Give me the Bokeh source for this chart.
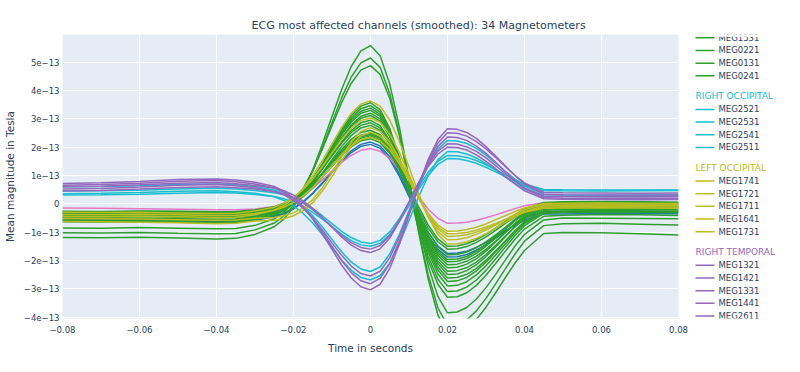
from bokeh.plotting import figure
from bokeh.models import Range1d, FixedTicker, ColumnDataSource
from bokeh.layouts import row
from bokeh.embed import file_html
from bokeh.resources import INLINE
from bokeh.core.properties import value

# ---------------- data (values in units of 1e-13 Tesla) ----------------
UNIT = 1e-13
T = [-0.08, -0.07, -0.06, -0.05, -0.04, -0.035, -0.03, -0.025, -0.0225, -0.02, -0.0175, -0.015,
     -0.0125, -0.01, -0.0075, -0.005, -0.0025, 0.0, 0.0025, 0.005, 0.0075, 0.01, 0.0125, 0.015,
     0.0175, 0.02, 0.0225, 0.025, 0.0275, 0.03, 0.0325, 0.035, 0.0375, 0.04, 0.045, 0.05, 0.06,
     0.07, 0.08]

LEFT_FRONTAL_NAMES = ["MEG0511", "MEG0521"]
LEFT_FRONTAL_VALUES = [
    [-0.57,-0.58,-0.60,-0.63,-0.68,-0.66,-0.58,-0.46,-0.35,-0.18,0.06,0.37,0.74,1.14,1.54,1.87,2.10,2.18,2.04,1.66,1.07,0.36,-0.36,-1.01,-1.49,-1.75,-1.74,-1.67,-1.54,-1.37,-1.17,-0.96,-0.76,-0.58,-0.36,-0.36,-0.33,-0.34,-0.35],
    [-0.55,-0.56,-0.58,-0.60,-0.62,-0.61,-0.54,-0.43,-0.32,-0.16,0.07,0.37,0.72,1.11,1.49,1.81,2.03,2.10,1.96,1.57,0.97,0.26,-0.48,-1.13,-1.61,-1.88,-1.87,-1.79,-1.64,-1.44,-1.21,-0.97,-0.73,-0.52,-0.27,-0.26,-0.24,-0.25,-0.27],
]

LEFT_PARIETAL_NAMES = ["MEG0711"]
LEFT_PARIETAL_VALUES = [
    [-0.15,-0.16,-0.17,-0.19,-0.21,-0.21,-0.18,-0.09,0.00,0.13,0.32,0.55,0.84,1.15,1.46,1.71,1.89,1.95,1.86,1.60,1.20,0.73,0.24,-0.19,-0.51,-0.69,-0.68,-0.65,-0.58,-0.49,-0.39,-0.28,-0.17,-0.07,0.04,0.05,0.06,0.05,0.05],
]

LEFT_TEMPORAL_NAMES = ["MEG0111", "MEG0121", "MEG0141", "MEG0211", "MEG0231", "MEG1511", "MEG1521",
                       "MEG1541", "MEG1611", "MEG1621", "MEG0311", "MEG0321", "MEG0341", "MEG1531",
                       "MEG0221", "MEG0131", "MEG0241"]
LEFT_TEMPORAL_VALUES = [
    [-1.19,-1.20,-1.18,-1.21,-1.24,-1.22,-1.08,-0.81,-0.54,-0.13,0.46,1.20,2.11,3.08,4.04,4.85,5.40,5.59,5.23,4.23,2.71,0.88,-1.00,-2.67,-3.92,-4.60,-4.57,-4.40,-4.08,-3.65,-3.14,-2.61,-2.10,-1.65,-1.05,-1.01,-1.02,-1.06,-1.10],
    [-1.02,-1.03,-1.01,-1.04,-1.06,-1.05,-0.92,-0.68,-0.43,-0.05,0.48,1.16,1.98,2.87,3.74,4.48,4.98,5.15,4.82,3.89,2.48,0.78,-0.96,-2.51,-3.67,-4.30,-4.27,-4.10,-3.78,-3.34,-2.83,-2.30,-1.78,-1.32,-0.77,-0.70,-0.69,-0.72,-0.75],
    [-0.85,-0.86,-0.84,-0.86,-0.88,-0.87,-0.76,-0.53,-0.30,0.05,0.54,1.17,1.94,2.76,3.57,4.26,4.72,4.88,4.57,3.72,2.41,0.85,-0.77,-2.20,-3.27,-3.85,-3.82,-3.66,-3.36,-2.96,-2.49,-1.99,-1.50,-1.08,-0.57,-0.50,-0.51,-0.52,-0.53],
    [-0.63,-0.64,-0.62,-0.65,-0.68,-0.66,-0.56,-0.40,-0.23,0.03,0.39,0.85,1.41,2.02,2.61,3.11,3.45,3.57,3.33,2.66,1.63,0.40,-0.88,-2.00,-2.84,-3.30,-3.28,-3.14,-2.88,-2.52,-2.11,-1.68,-1.26,-0.89,-0.44,-0.40,-0.38,-0.39,-0.41],
    [-0.57,-0.58,-0.56,-0.58,-0.61,-0.60,-0.51,-0.35,-0.18,0.06,0.41,0.86,1.39,1.98,2.55,3.03,3.36,3.47,3.24,2.60,1.61,0.44,-0.78,-1.86,-2.66,-3.10,-3.08,-2.94,-2.69,-2.35,-1.95,-1.53,-1.13,-0.77,-0.34,-0.30,-0.29,-0.30,-0.31],
    [-0.52,-0.51,-0.53,-0.54,-0.56,-0.55,-0.46,-0.30,-0.15,0.09,0.43,0.86,1.38,1.94,2.49,2.96,3.27,3.38,3.16,2.54,1.60,0.48,-0.68,-1.71,-2.48,-2.90,-2.88,-2.75,-2.51,-2.19,-1.81,-1.42,-1.03,-0.70,-0.29,-0.25,-0.24,-0.25,-0.26],
    [-0.46,-0.47,-0.45,-0.47,-0.49,-0.48,-0.40,-0.25,-0.10,0.13,0.45,0.87,1.37,1.91,2.44,2.89,3.20,3.30,3.09,2.50,1.59,0.51,-0.61,-1.60,-2.34,-2.74,-2.72,-2.60,-2.37,-2.06,-1.70,-1.32,-0.95,-0.63,-0.24,-0.19,-0.18,-0.20,-0.21],
    [-0.60,-0.61,-0.62,-0.64,-0.67,-0.65,-0.54,-0.39,-0.24,0.00,0.32,0.74,1.25,1.79,2.33,2.79,3.09,3.20,3.00,2.43,1.55,0.51,-0.57,-1.52,-2.23,-2.62,-2.60,-2.49,-2.28,-1.99,-1.66,-1.31,-0.97,-0.67,-0.32,-0.28,-0.27,-0.28,-0.29],
    [-0.34,-0.33,-0.35,-0.36,-0.38,-0.37,-0.29,-0.15,-0.01,0.20,0.50,0.88,1.34,1.84,2.33,2.74,3.02,3.12,2.92,2.37,1.53,0.52,-0.52,-1.44,-2.12,-2.50,-2.48,-2.36,-2.15,-1.86,-1.52,-1.16,-0.81,-0.50,-0.14,-0.09,-0.08,-0.10,-0.11],
    [-0.40,-0.41,-0.39,-0.42,-0.45,-0.43,-0.35,-0.21,-0.08,0.13,0.41,0.78,1.23,1.71,2.18,2.59,2.86,2.95,2.76,2.24,1.44,0.49,-0.50,-1.37,-2.02,-2.38,-2.36,-2.25,-2.06,-1.79,-1.47,-1.14,-0.82,-0.53,-0.19,-0.16,-0.15,-0.16,-0.17],
    [-0.28,-0.29,-0.27,-0.28,-0.31,-0.30,-0.23,-0.11,0.02,0.21,0.48,0.83,1.25,1.70,2.14,2.52,2.77,2.86,2.68,2.18,1.41,0.49,-0.45,-1.29,-1.92,-2.26,-2.24,-2.13,-1.94,-1.67,-1.35,-1.02,-0.70,-0.42,-0.08,-0.04,-0.03,-0.05,-0.06],
    [-0.50,-0.49,-0.51,-0.53,-0.55,-0.54,-0.45,-0.32,-0.19,0.01,0.30,0.65,1.09,1.56,2.02,2.41,2.68,2.77,2.60,2.12,1.38,0.50,-0.41,-1.22,-1.82,-2.15,-2.13,-2.03,-1.85,-1.61,-1.32,-1.01,-0.72,-0.46,-0.15,-0.12,-0.11,-0.12,-0.13],
    [-0.36,-0.37,-0.35,-0.37,-0.40,-0.38,-0.31,-0.20,-0.08,0.11,0.36,0.69,1.08,1.51,1.92,2.28,2.52,2.60,2.44,1.98,1.28,0.45,-0.41,-1.17,-1.74,-2.05,-2.03,-1.93,-1.75,-1.50,-1.21,-0.90,-0.60,-0.34,-0.03,0.00,0.01,0.00,-0.01],
    [-0.30,-0.31,-0.29,-0.30,-0.33,-0.32,-0.26,-0.14,-0.03,0.14,0.38,0.69,1.06,1.46,1.86,2.20,2.42,2.50,2.34,1.91,1.24,0.44,-0.39,-1.13,-1.67,-1.97,-1.95,-1.86,-1.68,-1.43,-1.14,-0.84,-0.55,-0.29,0.02,0.05,0.06,0.05,0.04],
    [-0.44,-0.45,-0.43,-0.45,-0.47,-0.46,-0.40,-0.28,-0.17,0.01,0.25,0.56,0.94,1.35,1.75,2.09,2.32,2.40,2.25,1.84,1.21,0.46,-0.32,-1.01,-1.52,-1.80,-1.79,-1.70,-1.55,-1.34,-1.10,-0.84,-0.59,-0.37,-0.11,-0.08,-0.07,-0.08,-0.09],
    [-0.32,-0.33,-0.31,-0.33,-0.35,-0.34,-0.28,-0.17,-0.07,0.09,0.32,0.61,0.95,1.33,1.70,2.01,2.23,2.30,2.16,1.78,1.20,0.50,-0.22,-0.86,-1.34,-1.60,-1.59,-1.51,-1.36,-1.17,-0.94,-0.69,-0.46,-0.25,0.00,0.02,0.03,0.02,0.01],
    [-0.26,-0.27,-0.25,-0.26,-0.28,-0.27,-0.22,-0.11,0.00,0.17,0.40,0.70,1.06,1.45,1.83,2.16,2.37,2.45,2.31,1.92,1.33,0.63,-0.11,-0.75,-1.24,-1.50,-1.49,-1.41,-1.27,-1.08,-0.86,-0.62,-0.39,-0.19,0.05,0.07,0.08,0.07,0.06],
]

RIGHT_OCCIPITAL_NAMES = ["MEG2521", "MEG2531", "MEG2541", "MEG2511"]
RIGHT_OCCIPITAL_VALUES = [
    [0.45,0.46,0.48,0.52,0.55,0.52,0.47,0.39,0.32,0.20,0.04,-0.17,-0.42,-0.70,-0.97,-1.19,-1.35,-1.40,-1.29,-0.99,-0.52,0.04,0.61,1.12,1.50,1.71,1.70,1.64,1.53,1.38,1.21,1.03,0.85,0.70,0.51,0.50,0.49,0.49,0.49],
    [0.31,0.32,0.34,0.37,0.40,0.38,0.33,0.26,0.18,0.07,-0.09,-0.30,-0.54,-0.81,-1.07,-1.30,-1.45,-1.50,-1.39,-1.09,-0.62,-0.07,0.51,1.01,1.39,1.60,1.59,1.53,1.43,1.29,1.13,0.96,0.79,0.64,0.47,0.46,0.45,0.46,0.47],
    [0.60,0.61,0.64,0.68,0.70,0.67,0.61,0.49,0.37,0.18,-0.08,-0.42,-0.82,-1.26,-1.69,-2.06,-2.30,-2.39,-2.23,-1.77,-1.08,-0.25,0.61,1.37,1.93,2.24,2.22,2.13,1.96,1.72,1.44,1.15,0.87,0.63,0.33,0.31,0.30,0.31,0.32],
    [0.36,0.37,0.40,0.44,0.46,0.43,0.37,0.25,0.12,-0.07,-0.34,-0.68,-1.09,-1.54,-1.98,-2.35,-2.60,-2.69,-2.53,-2.09,-1.41,-0.59,0.25,0.99,1.55,1.85,1.84,1.76,1.62,1.42,1.19,0.95,0.72,0.52,0.27,0.26,0.25,0.26,0.27],
]

LEFT_OCCIPITAL_NAMES = ["MEG1741", "MEG1721", "MEG1711", "MEG1641", "MEG1731"]
LEFT_OCCIPITAL_VALUES = [
    [-0.45,-0.46,-0.44,-0.46,-0.48,-0.47,-0.39,-0.22,-0.06,0.19,0.54,0.99,1.53,2.12,2.70,3.19,3.52,3.63,3.45,2.96,2.20,1.30,0.36,-0.47,-1.08,-1.42,-1.41,-1.34,-1.22,-1.05,-0.86,-0.65,-0.45,-0.28,-0.07,-0.05,-0.04,-0.05,-0.06],
    [-0.30,-0.31,-0.30,-0.32,-0.34,-0.33,-0.25,-0.12,0.02,0.22,0.51,0.88,1.32,1.80,2.27,2.67,2.94,3.03,2.88,2.46,1.81,1.04,0.25,-0.46,-0.98,-1.27,-1.26,-1.20,-1.08,-0.93,-0.75,-0.56,-0.37,-0.21,-0.02,0.00,0.01,0.00,-0.01],
    [-0.52,-0.53,-0.54,-0.56,-0.58,-0.57,-0.51,-0.48,-0.42,-0.32,-0.14,0.15,0.57,1.09,1.66,2.18,2.56,2.69,2.56,2.18,1.60,0.92,0.21,-0.42,-0.89,-1.15,-1.14,-1.09,-1.00,-0.87,-0.72,-0.56,-0.41,-0.28,-0.12,-0.10,-0.09,-0.10,-0.11],
    [-0.62,-0.63,-0.65,-0.67,-0.70,-0.69,-0.61,-0.58,-0.53,-0.42,-0.24,0.04,0.45,0.96,1.52,2.03,2.40,2.53,2.40,2.05,1.51,0.87,0.21,-0.38,-0.82,-1.06,-1.05,-1.01,-0.93,-0.82,-0.69,-0.55,-0.42,-0.30,-0.16,-0.15,-0.14,-0.15,-0.16],
    [-0.38,-0.39,-0.37,-0.39,-0.41,-0.40,-0.34,-0.23,-0.12,0.05,0.28,0.58,0.95,1.34,1.72,2.05,2.27,2.35,2.23,1.91,1.41,0.82,0.20,-0.34,-0.75,-0.97,-0.96,-0.91,-0.83,-0.71,-0.56,-0.42,-0.27,-0.15,0.01,0.02,0.03,0.02,0.01],
]

RIGHT_TEMPORAL_NAMES = ["MEG1321", "MEG1421", "MEG1331", "MEG1441", "MEG2611"]
RIGHT_TEMPORAL_VALUES = [
    [0.72,0.74,0.79,0.86,0.88,0.84,0.76,0.61,0.45,0.21,-0.12,-0.54,-1.06,-1.61,-2.16,-2.62,-2.93,-3.04,-2.84,-2.28,-1.43,-0.41,0.64,1.57,2.27,2.65,2.63,2.52,2.31,2.02,1.69,1.34,1.00,0.70,0.35,0.32,0.31,0.30,0.31],
    [0.66,0.68,0.73,0.80,0.82,0.78,0.70,0.56,0.42,0.20,-0.11,-0.50,-0.98,-1.50,-2.00,-2.43,-2.72,-2.82,-2.63,-2.11,-1.31,-0.36,0.63,1.50,2.15,2.51,2.49,2.39,2.20,1.94,1.64,1.32,1.01,0.74,0.41,0.39,0.38,0.37,0.38],
    [0.52,0.54,0.59,0.66,0.68,0.64,0.57,0.44,0.32,0.12,-0.15,-0.50,-0.92,-1.38,-1.82,-2.20,-2.46,-2.55,-2.38,-1.90,-1.16,-0.28,0.63,1.43,2.03,2.36,2.34,2.24,2.04,1.78,1.47,1.14,0.83,0.55,0.22,0.20,0.19,0.18,0.19],
    [0.60,0.62,0.67,0.73,0.75,0.71,0.65,0.56,0.46,0.31,0.10,-0.16,-0.48,-0.83,-1.17,-1.46,-1.65,-1.72,-1.59,-1.21,-0.63,0.05,0.76,1.39,1.86,2.12,2.11,2.01,1.85,1.62,1.35,1.07,0.80,0.56,0.28,0.26,0.25,0.24,0.25],
    [0.45,0.47,0.52,0.58,0.60,0.57,0.52,0.43,0.34,0.21,0.03,-0.21,-0.50,-0.80,-1.11,-1.37,-1.54,-1.60,-1.47,-1.12,-0.58,0.06,0.73,1.32,1.76,2.00,1.99,1.90,1.73,1.50,1.24,0.96,0.70,0.46,0.18,0.16,0.15,0.14,0.15],
]

GROUPS = [
    ("LEFT FRONTAL", "#1f77b4", LEFT_FRONTAL_NAMES, LEFT_FRONTAL_VALUES),
    ("LEFT PARIETAL", "#e377c2", LEFT_PARIETAL_NAMES, LEFT_PARIETAL_VALUES),
    ("LEFT TEMPORAL", "#2ca02c", LEFT_TEMPORAL_NAMES, LEFT_TEMPORAL_VALUES),
    ("RIGHT OCCIPITAL", "#17becf", RIGHT_OCCIPITAL_NAMES, RIGHT_OCCIPITAL_VALUES),
    ("LEFT OCCIPITAL", "#bcbd22", LEFT_OCCIPITAL_NAMES, LEFT_OCCIPITAL_VALUES),
    ("RIGHT TEMPORAL", "#9467bd", RIGHT_TEMPORAL_NAMES, RIGHT_TEMPORAL_VALUES),
]

X_TICKS = [-0.08, -0.06, -0.04, -0.02, 0, 0.02, 0.04, 0.06, 0.08]
X_LABELS = ["\u22120.08", "\u22120.06", "\u22120.04", "\u22120.02", "0", "0.02", "0.04", "0.06", "0.08"]
Y_TICKS = [-4e-13, -3e-13, -2e-13, -1e-13, 0, 1e-13, 2e-13, 3e-13, 4e-13, 5e-13]
Y_LABELS = ["\u22124e\u221213", "\u22123e\u221213", "\u22122e\u221213", "\u22121e\u221213", "0",
            "1e\u221213", "2e\u221213", "3e\u221213", "4e\u221213", "5e\u221213"]

TITLE = "ECG most affected channels (smoothed): 34 Magnetometers"
X_TITLE = "Time in seconds"
Y_TITLE = "Mean magnitude in Tesla"

# legend: the visible (scrolled) part of the grouped legend
LEGEND_VISIBLE = [
    (None, "#2ca02c", LEFT_TEMPORAL_NAMES[-4:]),
    ("RIGHT OCCIPITAL", "#17becf", RIGHT_OCCIPITAL_NAMES),
    ("LEFT OCCIPITAL", "#bcbd22", LEFT_OCCIPITAL_NAMES),
    ("RIGHT TEMPORAL", "#9467bd", RIGHT_TEMPORAL_NAMES),
]

FONT = "DejaVu Sans"
TEXT_COLOR = "#2a3f5f"

for _, _, nms, vals in GROUPS:
    assert len(nms) == len(vals)
    for v in vals:
        assert len(v) == len(T), len(v)

# ---------------- main plot ----------------
FRAME_L, FRAME_R, FRAME_T, FRAME_B = 65, 686, 42, 327   # page-pixel box of the plot area
MAIN_W, H = 690, 356
BORDER_T, BORDER_B = FRAME_T - 8, 8 + H - FRAME_B

p = figure(width=MAIN_W, height=H, output_backend="svg", toolbar_location=None,
           x_range=Range1d(-0.08, 0.08), y_range=Range1d(-4.05e-13, 5.98e-13),
           min_border_left=FRAME_L - 8, min_border_right=8 + MAIN_W - FRAME_R,
           min_border_top=BORDER_T, min_border_bottom=BORDER_B,
           background_fill_color="#e5ecf6", border_fill_color="white",
           outline_line_color=None, title=TITLE)

p.title.text_font = FONT
p.title.text_font_size = "11px"
p.title.text_font_style = "normal"
p.title.text_color = TEXT_COLOR
p.title.align = "left"
p.title.offset = 189
p.title.standoff = 6

for name, color, names, values in GROUPS:
    for ch, vals in zip(names, values):
        p.line(T, [v * UNIT for v in vals], line_color=color, line_width=1.5)

p.xaxis.ticker = FixedTicker(ticks=X_TICKS)
p.xaxis.major_label_overrides = dict(zip(X_TICKS, X_LABELS))
p.yaxis.ticker = FixedTicker(ticks=Y_TICKS)
p.yaxis.major_label_overrides = dict(zip(Y_TICKS, Y_LABELS))
p.xaxis.axis_label = X_TITLE
p.yaxis.axis_label = Y_TITLE

for ax in p.axis:
    ax.axis_line_color = None
    ax.major_tick_line_color = None
    ax.minor_tick_line_color = None
    ax.major_tick_out = 0
    ax.major_tick_in = 0
    ax.minor_tick_out = 0
    ax.minor_tick_in = 0
    ax.major_label_text_font = FONT
    ax.major_label_text_font_size = "8.5px"
    ax.major_label_text_color = TEXT_COLOR
    ax.axis_label_text_font = FONT
    ax.axis_label_text_font_size = "10.5px"
    ax.axis_label_text_font_style = "normal"
    ax.axis_label_text_color = TEXT_COLOR
p.xaxis.major_label_standoff = 7
p.xaxis.axis_label_standoff = 6
p.yaxis.major_label_standoff = 3
p.yaxis.axis_label_standoff = 5

p.xgrid.grid_line_color = "white"
p.ygrid.grid_line_color = "white"
p.xgrid.grid_line_width = 1
p.ygrid.grid_line_width = 1

# ---------------- legend panel (page-pixel coordinates) ----------------
LEG_X0 = 8 + MAIN_W
LEG_W = 784 - MAIN_W
leg = figure(width=LEG_W, height=H, output_backend="svg", toolbar_location=None,
             x_range=Range1d(LEG_X0, LEG_X0 + LEG_W), y_range=Range1d(FRAME_B, FRAME_T),
             min_border_left=0, min_border_right=0, min_border_top=BORDER_T,
             min_border_bottom=BORDER_B,
             background_fill_color="white", border_fill_color="white", outline_line_color=None)
leg.axis.visible = False
leg.grid.visible = False

item_rows = dict(x0=[], x1=[], y=[], tx=[], text=[], color=[])
head_rows = dict(x=[], y=[], text=[], color=[])
y = 45.3
first = True
prev_head = False
for heading, color, names in LEGEND_VISIBLE:
    if heading is not None:
        y += 20.5
        head_rows["x"].append(LEG_X0 + 5)
        head_rows["y"].append(y)
        head_rows["text"].append(heading)
        head_rows["color"].append(color)
        prev_head = True
    for nm in names:
        if first:
            first = False
        elif prev_head:
            y += 13.2
        else:
            y += 12.72
        prev_head = False
        item_rows["x0"].append(LEG_X0 + 5)
        item_rows["x1"].append(LEG_X0 + 24)
        item_rows["y"].append(y)
        item_rows["tx"].append(LEG_X0 + 28)
        item_rows["text"].append(nm)
        item_rows["color"].append(color)

isrc = ColumnDataSource(item_rows)
hsrc = ColumnDataSource(head_rows)
leg.segment(x0="x0", y0="y", x1="x1", y1="y", line_color="color", line_width=1.5, source=isrc)
leg.text(x="tx", y="y", text="text", source=isrc, text_font=value(FONT),
         text_font_size=value("8.5px"), text_color=TEXT_COLOR, text_baseline="middle")
leg.text(x="x", y="y", text="text", source=hsrc, text_font=value(FONT),
         text_font_size=value("9px"), text_color="color", text_baseline="middle")
# the legend box is scrolled: its first visible row is cut by the top edge
leg.quad(left=LEG_X0, right=LEG_X0 + LEG_W, top=FRAME_T - 5, bottom=FRAME_T + 2.3,
         fill_color="white", line_color=None)

layout = row(p, leg)
open("out.html", "w").write(file_html(layout, INLINE))
